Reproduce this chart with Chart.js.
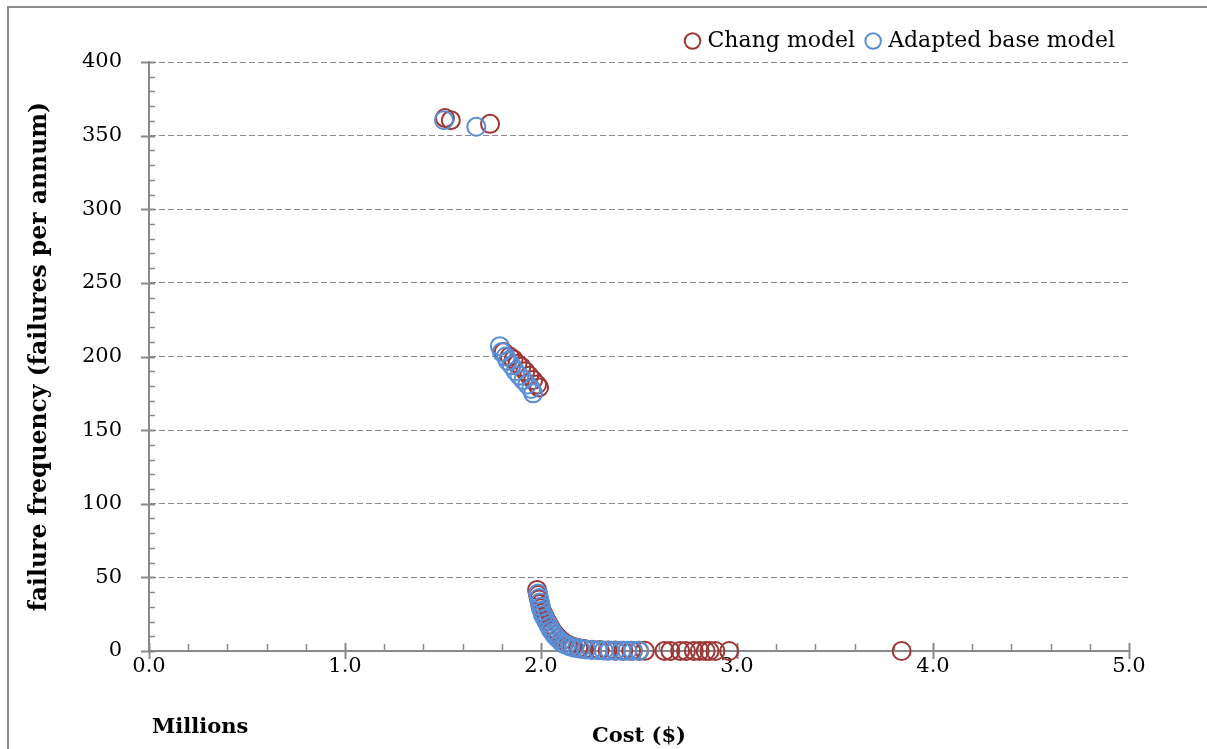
<!DOCTYPE html>
<html>
<head>
<meta charset="utf-8">
<script src="https://cdn.jsdelivr.net/npm/chart.js@4"></script>
<style>
  html, body { margin: 0; padding: 0; background: #fff; overflow: hidden; }
  #wrap { position: relative; width: 1207px; height: 749px; overflow: hidden; }
  #myChart { display: block; }
  #frame { position: absolute; left: 7px; top: 6px; right: -20px; bottom: -20px;
           border-top: 2px solid #8c8c8c; border-left: 2px solid #8c8c8c; pointer-events: none; }
</style>
</head>
<body>
<div id="wrap">
  <canvas id="myChart" width="1207" height="749"></canvas>
  <div id="frame"></div>
</div>
<script>
// cost in millions of $, frequency in failures per annum
const changCost = [
    1.51, 1.54, 1.74,
    1.81, 1.84, 1.86, 1.88, 1.90, 1.92, 1.94, 1.96, 1.98, 1.99,
    1.98, 1.985, 1.99, 1.995, 2.00, 2.01, 2.02, 2.03, 2.04, 2.05, 2.06, 2.075, 2.09, 2.105,
    2.12, 2.14, 2.16, 2.19, 2.22, 2.26, 2.30, 2.34, 2.38, 2.42, 2.46, 2.50,
    2.53, 2.63, 2.66, 2.71, 2.74, 2.78, 2.81, 2.84, 2.86, 2.89, 2.96, 3.84
];
const changFreq = [
    362, 360.5, 358,
    203, 200, 198, 195, 193, 190, 187, 184, 181, 179,
    41.5, 38, 35, 32, 29, 26, 23, 20.5, 18, 15.5, 13.5, 11, 9, 7,
    5.5, 4, 3, 2, 1.3, 0.9, 0.6, 0.4, 0.3, 0.2, 0.15, 0.1,
    0.1, 0.05, 0.05, 0.04, 0.03, 0.03, 0.02, 0.02, 0.02, 0.01, 0.01, 0
];

const adaptedCost = [
    1.505, 1.67,
    1.79, 1.80, 1.82, 1.83, 1.85, 1.87, 1.89, 1.91, 1.93, 1.95, 1.96,
    1.985, 1.99, 1.995, 2.00, 2.005, 2.01, 2.02, 2.03, 2.04, 2.05, 2.06, 2.07, 2.085, 2.10,
    2.115, 2.13, 2.15, 2.17, 2.20, 2.23, 2.26, 2.29, 2.32, 2.35, 2.38, 2.41, 2.44, 2.47, 2.50
];
const adaptedFreq = [
    360.5, 356,
    207, 203, 200, 197, 194, 190, 187, 184, 181, 178, 175,
    39, 36, 33, 30, 27, 24.5, 22, 19.5, 17, 14.5, 12.5, 10.5, 8.5, 6.5,
    5, 4, 3, 2.2, 1.5, 1, 0.7, 0.5, 0.4, 0.3, 0.25, 0.2, 0.15, 0.1, 0.1
];

const seriesNames = ['Chang model', 'Adapted base model'];
const seriesColors = ['#9e3636', '#5a8fd6'];

const axisGrey = '#8a8a8a';
const serif = '"DejaVu Serif", serif';

function points(xs, ys) {
    return xs.map((x, i) => ({ x: x, y: ys[i] }));
}

function series(name, color, data) {
    return {
        label: name,
        data: data,
        showLine: false,
        clip: false,
        borderColor: color,
        backgroundColor: 'transparent',
        pointBackgroundColor: 'transparent',
        pointBorderColor: color,
        pointBorderWidth: 2,
        pointRadius: 9,
        pointHoverRadius: 9
    };
}

// tick marks in the spreadsheet style: major crossing the axis, minor inside
const axisTicks = {
    id: 'axisTicks',
    beforeDatasetsDraw(chart) {
        const { ctx, scales: { x, y } } = chart;
        const x0 = x.left, y0 = y.bottom;
        ctx.save();
        ctx.strokeStyle = axisGrey;
        for (let v = 0; v <= 400; v += 10) {
            const py = Math.round(y.getPixelForValue(v)) + 0.5;
            const major = v % 50 === 0;
            ctx.lineWidth = major ? 2 : 1.5;
            ctx.beginPath();
            ctx.moveTo(major ? x0 - 8 : x0, py);
            ctx.lineTo(x0 + 6, py);
            ctx.stroke();
        }
        for (let i = 0; i <= 25; i++) {
            const px = Math.round(x.getPixelForValue(i * 0.2)) + 0.5;
            const major = i % 5 === 0;
            ctx.lineWidth = major ? 2 : 1.5;
            ctx.beginPath();
            ctx.moveTo(px, major ? y0 + 8 : y0);
            ctx.lineTo(px, y0 - (major ? 8 : 7));
            ctx.stroke();
        }
        ctx.restore();
    },
    afterDraw(chart) {
        const { ctx, chartArea } = chart;
        ctx.save();
        ctx.font = 'bold 21px ' + serif;
        ctx.fillStyle = '#000';
        ctx.textAlign = 'left';
        ctx.textBaseline = 'middle';
        ctx.fillText('Millions', chartArea.left + 3, 728);
        ctx.restore();
    }
};

const ctx = document.getElementById('myChart').getContext('2d');

const myChart = new Chart(ctx, {
    type: 'scatter',
    data: {
        // adapted series first so its circles sit on top
        datasets: [
            series(seriesNames[1], seriesColors[1], points(adaptedCost, adaptedFreq)),
            series(seriesNames[0], seriesColors[0], points(changCost, changFreq))
        ]
    },
    options: {
        responsive: false,
        animation: false,
        devicePixelRatio: 1,
        layout: { padding: { top: 16, right: 78, bottom: 0, left: 26 } },
        plugins: {
            tooltip: { enabled: false },
            legend: {
                position: 'top',
                align: 'end',
                fullSize: false,
                reverse: true,
                labels: {
                    usePointStyle: true,
                    pointStyle: 'circle',
                    boxWidth: 8,
                    boxHeight: 11,
                    padding: 14,
                    color: '#000',
                    font: { family: serif, size: 22 }
                }
            }
        },
        scales: {
            x: {
                type: 'linear',
                position: 'bottom',
                min: 0,
                max: 5,
                afterFit: s => { s.height = 98; },
                ticks: {
                    stepSize: 1,
                    padding: 3,
                    color: '#000',
                    font: { family: serif, size: 21 },
                    callback: v => v.toFixed(1)
                },
                grid: { drawOnChartArea: false, drawTicks: false },
                border: { color: axisGrey, width: 2 },
                title: {
                    display: true,
                    text: 'Cost ($)',
                    color: '#000',
                    padding: 0,
                    font: { family: serif, size: 21, weight: 'bold' }
                }
            },
            y: {
                min: 0,
                max: 400,
                afterFit: s => { s.width = 123; },
                ticks: {
                    stepSize: 50,
                    padding: 27,
                    color: '#000',
                    font: { family: serif, size: 21 }
                },
                grid: {
                    drawTicks: false,
                    lineWidth: 1,
                    color: c => (c.tick && c.tick.value === 0) ? 'transparent' : axisGrey
                },
                border: { color: axisGrey, width: 2, dash: [6, 3] },
                title: {
                    display: true,
                    text: 'failure frequency (failures per annum)',
                    color: '#000',
                    padding: 0,
                    font: { family: serif, size: 23.5, weight: 'bold' }
                }
            }
        }
    },
    plugins: [axisTicks]
});
</script>
</body>
</html>
